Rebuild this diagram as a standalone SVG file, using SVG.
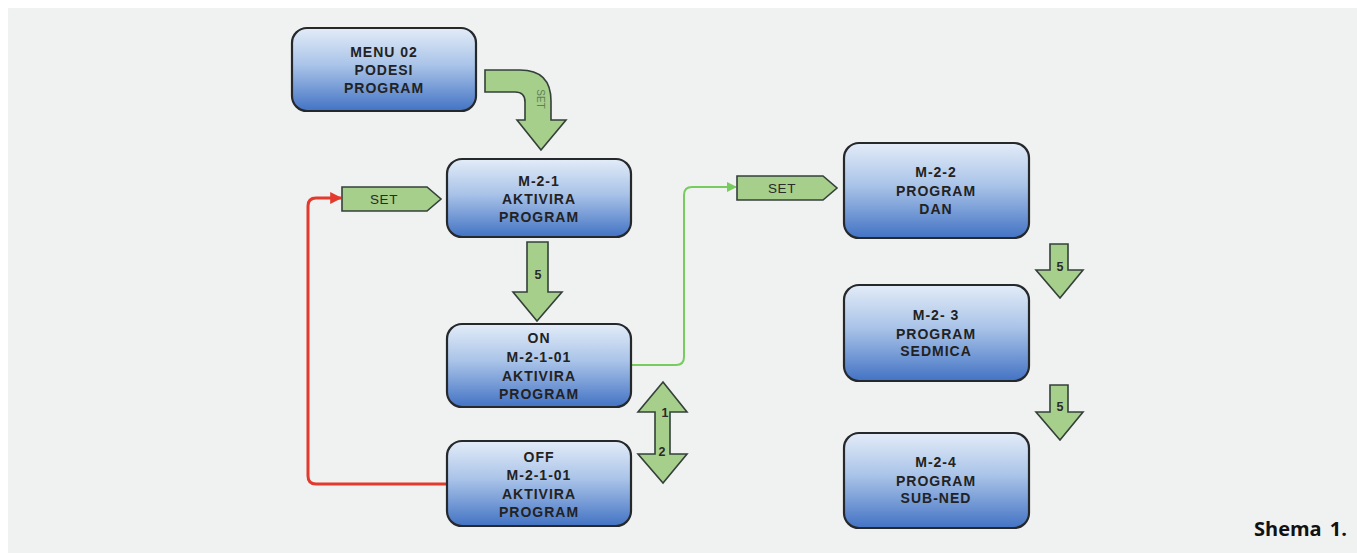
<svg xmlns="http://www.w3.org/2000/svg" width="1357" height="553" viewBox="0 0 1357 553">
<defs>
<linearGradient id="blue" x1="0" y1="0" x2="0" y2="1">
<stop offset="0" stop-color="#e3ecf8"/>
<stop offset="0.45" stop-color="#a9c3e8"/>
<stop offset="1" stop-color="#4373c4"/>
</linearGradient>
<marker id="redHead" viewBox="0 0 10 10" refX="9" refY="5" markerWidth="4" markerHeight="4" orient="auto" markerUnits="strokeWidth">
<path d="M0,0 L10,5 L0,10 Z" fill="#e23b2e"/>
</marker>
<marker id="greenHead" viewBox="0 0 10 10" refX="9" refY="5" markerWidth="5" markerHeight="5" orient="auto" markerUnits="strokeWidth">
<path d="M0,0 L10,5 L0,10 Z" fill="#78cc5e"/>
</marker>
</defs>
<style>
.node rect{fill:url(#blue);stroke:#26292c;stroke-width:2.2}
.node text{font-family:"Liberation Sans",Arial,sans-serif;font-weight:bold;font-size:14px;letter-spacing:1px;fill:#222;text-anchor:middle}
.garrow{fill:#a6cf8c;stroke:#34403a;stroke-width:1.6;stroke-linejoin:miter}
.glabel{font-family:"Liberation Sans",Arial,sans-serif;font-weight:bold;font-size:12.5px;fill:#2a2a2a;text-anchor:middle}
.slabel{font-family:"Liberation Sans",Arial,sans-serif;font-size:13.5px;letter-spacing:0.6px;fill:#2a2a2a;text-anchor:middle}
</style>
<rect x="8" y="8" width="1349" height="545" fill="#f0f1f1"/>

<g id="connectors">
<path d="M447,484 L316,484 Q308,484 308,476 L308,206 Q308,198 316,198 L341,198" fill="none" stroke="#e23b2e" stroke-width="3" marker-end="url(#redHead)"/>
<path d="M631,365 L676,365 Q684,365 684,357 L684,195 Q684,187 692,187 L736,187" fill="none" stroke="#78cc5e" stroke-width="2" marker-end="url(#greenHead)"/>
</g>

<g id="arrow-set-menu">
<path class="garrow" d="M485,70 L520,70 Q551,70 551,101 L551,120 L566,120 L541,150 L517,120 L525,120 L525,102 Q525,92 515,92 L485,92 Z"/>
<text x="540" y="99" transform="rotate(90 540 99)" font-family="Liberation Sans,Arial,sans-serif" font-size="10" fill="#607f58" text-anchor="middle" dominant-baseline="central">SET</text>
</g>

<g id="arrow-5-left">
<path class="garrow" d="M527,242 L548,242 L548,292 L562,292 L537,321 L513,292 L527,292 Z"/>
<text class="glabel" x="538" y="279">5</text>
</g>

<g id="arrow-12">
<path class="garrow" d="M663,382 L687,412 L670,412 L670,454 L687,454 L663,483 L638,454 L655,454 L655,412 L638,412 Z"/>
<text class="glabel" x="665" y="417">1</text>
<text class="glabel" x="662" y="456">2</text>
</g>

<g id="arrow-5-right-1">
<path class="garrow" d="M1050,244 L1068,244 L1068,270 L1083,270 L1060,298 L1036,270 L1050,270 Z"/>
<text class="glabel" x="1060" y="271">5</text>
</g>

<g id="arrow-5-right-2">
<path class="garrow" d="M1050,385 L1068,385 L1068,412 L1083,412 L1060,440 L1036,412 L1050,412 Z"/>
<text class="glabel" x="1060" y="411">5</text>
</g>

<g id="set-left">
<path class="garrow" d="M342,187 L427,187 L441,199 L427,211 L342,211 Z"/>
<text class="slabel" x="384" y="204">SET</text>
</g>

<g id="set-right">
<path class="garrow" d="M737,176 L823,176 L837,188 L823,200 L737,200 Z"/>
<text class="slabel" x="782" y="193">SET</text>
</g>

<g id="menu02" class="node">
<rect x="292" y="28" width="184" height="83" rx="15"/>
<text x="384" y="57">MENU 02</text>
<text x="384" y="75">PODESI</text>
<text x="384" y="93">PROGRAM</text>
</g>

<g id="m-2-1" class="node">
<rect x="447" y="159" width="184" height="78" rx="15"/>
<text x="539" y="186">M-2-1</text>
<text x="539" y="204">AKTIVIRA</text>
<text x="539" y="222">PROGRAM</text>
</g>

<g id="on" class="node">
<rect x="447" y="324" width="184" height="83" rx="15"/>
<text x="539" y="343">ON</text>
<text x="539" y="362">M-2-1-01</text>
<text x="539" y="381">AKTIVIRA</text>
<text x="539" y="399">PROGRAM</text>
</g>

<g id="off" class="node">
<rect x="447" y="441" width="184" height="85" rx="15"/>
<text x="539" y="462">OFF</text>
<text x="539" y="480">M-2-1-01</text>
<text x="539" y="499">AKTIVIRA</text>
<text x="539" y="517">PROGRAM</text>
</g>

<g id="m-2-2" class="node">
<rect x="844" y="143" width="185" height="95" rx="15"/>
<text x="936" y="177">M-2-2</text>
<text x="936" y="196">PROGRAM</text>
<text x="936" y="214">DAN</text>
</g>

<g id="m-2-3" class="node">
<rect x="844" y="285" width="185" height="96" rx="15"/>
<text x="936" y="320">M-2- 3</text>
<text x="936" y="339">PROGRAM</text>
<text x="936" y="356">SEDMICA</text>
</g>

<g id="m-2-4" class="node">
<rect x="844" y="433" width="185" height="95" rx="15"/>
<text x="936" y="467">M-2-4</text>
<text x="936" y="486">PROGRAM</text>
<text x="936" y="503">SUB-NED</text>
</g>

<text x="1347" y="536" font-family="Open Sans,Liberation Sans,sans-serif" font-weight="bold" font-size="20" fill="#111" text-anchor="end" word-spacing="3">Shema 1.</text>
</svg>
